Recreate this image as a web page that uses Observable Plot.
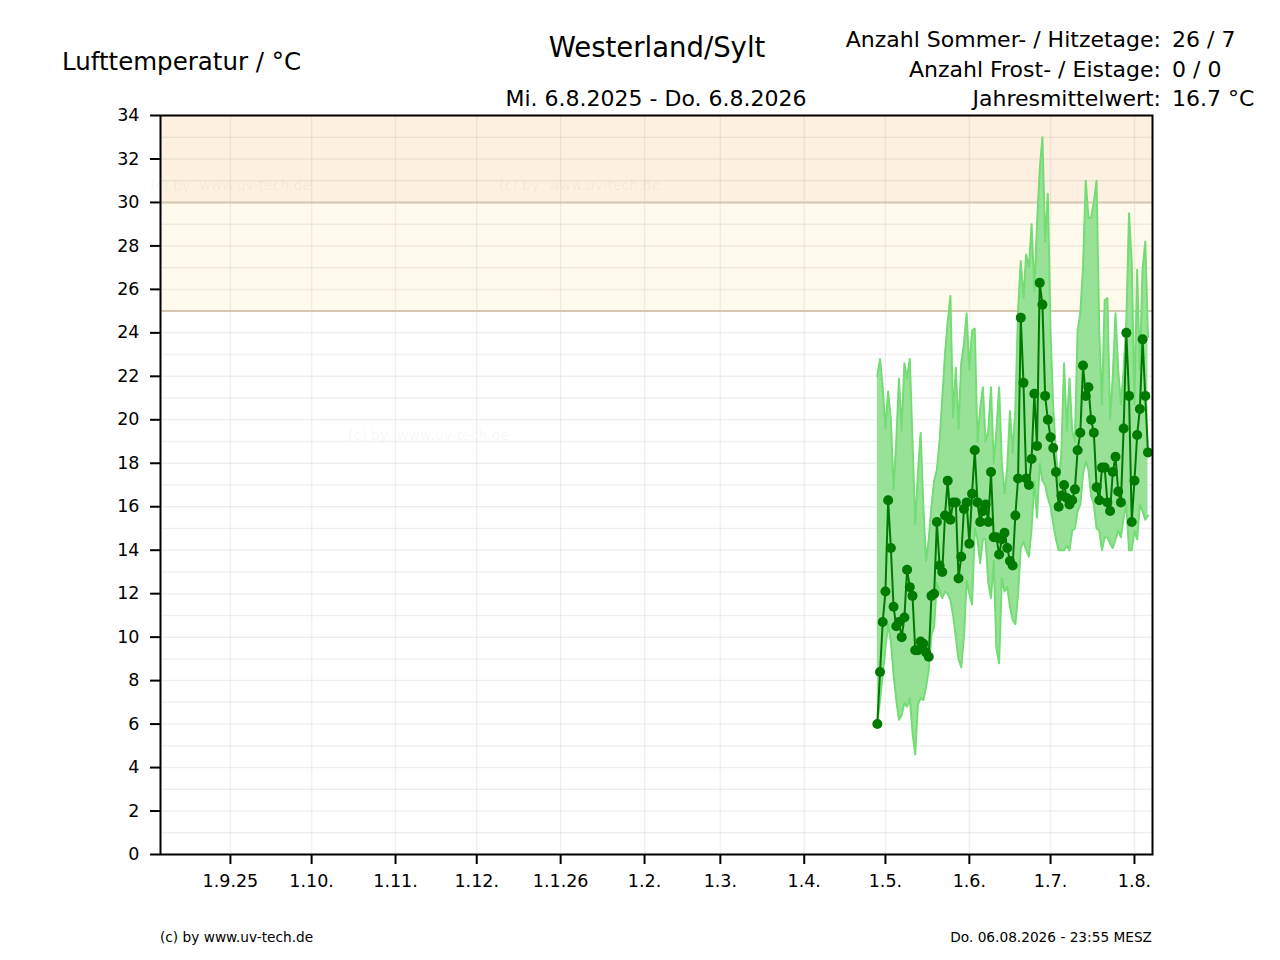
<!DOCTYPE html>
<html>
<head>
<meta charset="utf-8">
<script src="https://cdn.jsdelivr.net/npm/d3@7"></script>
<script src="https://cdn.jsdelivr.net/npm/@observablehq/plot@0.6"></script>
<style>
  html, body { margin: 0; padding: 0; background: #fff; }
  #chart { width: 1280px; height: 960px; }
</style>
</head>
<body>
<div id="chart"></div>
<script>
// ---- data ----
const firstDay = "2026-04-28";
const meanTemp = [6.0,8.4,10.7,12.1,16.3,14.1,11.4,10.5,10.7,10.0,
  10.9,13.1,12.3,11.9,9.4,9.4,9.8,9.7,9.3,9.1,
  11.9,12.0,15.3,13.3,13.0,15.6,17.2,15.4,16.2,16.2,
  12.7,13.7,15.9,16.2,14.3,16.6,18.6,16.2,15.3,15.8,
  16.1,15.3,17.6,14.6,14.6,13.8,14.5,14.8,14.1,13.5,
  13.3,15.6,17.3,24.7,21.7,17.3,17.0,18.2,21.2,18.8,
  26.3,25.3,21.1,20.0,19.2,18.7,17.6,16.0,16.5,17.0,
  16.4,16.1,16.3,16.8,18.6,19.4,22.5,21.1,21.5,20.0,
  19.4,16.9,16.3,17.8,17.8,16.2,15.8,17.6,18.3,16.7,
  16.2,19.6,24.0,21.1,15.3,17.2,19.3,20.5,23.7,21.1,
  18.5];
const minTemp = [6.0,7.1,8.3,9.5,10.6,9.8,8.3,7.1,6.2,6.4,
  7.0,6.8,7.2,5.6,4.6,6.9,7.2,7.1,7.7,8.5,
  10.1,10.5,12.5,12.1,11.8,12.1,12.0,11.7,11.0,10.0,
  9.0,8.6,10.0,12.6,12.0,11.5,15.0,14.5,13.4,14.5,
  14.5,12.5,11.8,13.5,9.5,8.8,12.7,12.1,12.3,11.4,
  10.8,10.6,12.0,14.1,14.4,14.0,13.7,15.0,17.2,15.5,
  18.0,17.2,17.0,16.4,16.0,15.2,14.5,14.0,14.0,14.0,
  14.2,14.0,14.9,15.0,15.8,16.1,17.5,18.1,17.7,16.5,
  16.1,15.0,14.9,14.0,14.6,14.6,14.3,14.1,14.5,14.9,
  14.6,15.5,16.1,14.0,14.0,14.9,14.5,16.1,15.8,15.4,
  15.6];
const maxTemp = [22.0,22.8,21.5,19.6,21.3,20.0,16.8,19.0,21.9,19.5,
  22.6,21.9,22.8,19.0,15.2,17.5,19.4,16.0,13.5,14.5,
  16.0,17.2,17.7,19.0,21.0,23.0,24.5,25.7,20.1,22.4,
  19.6,22.6,23.5,24.9,22.3,24.1,24.2,19.0,20.5,21.5,
  19.0,19.5,21.5,18.0,19.5,21.5,18.0,16.6,17.8,20.4,
  18.5,20.5,25.0,27.3,25.6,27.6,27.0,29.0,25.9,29.0,
  31.5,33.0,28.2,30.4,24.0,20.5,18.5,17.0,18.5,22.6,
  19.5,21.9,19.5,19.0,24.1,24.9,27.0,31.0,29.3,29.3,
  30.0,31.0,24.0,20.7,25.5,25.6,20.0,22.0,24.9,22.3,
  20.7,22.3,24.5,29.5,27.2,20.7,26.9,22.3,26.9,28.2,
  23.8];
const tickDates = ["2025-09-01","2025-10-01","2025-11-01","2025-12-01","2026-01-01","2026-02-01",
  "2026-03-01","2026-04-01","2026-05-01","2026-06-01","2026-07-01","2026-08-01"];
const tickLabels = ["1.9.25","1.10.","1.11.","1.12.","1.1.26","1.2.","1.3.","1.4.","1.5.","1.6.","1.7.","1.8."];
const yTicks = [0,2,4,6,8,10,12,14,16,18,20,22,24,26,28,30,32,34];
const zones = [
  {lo: 25, hi: 30, fill: "#fffaeb"},
  {lo: 30, hi: 34, fill: "#fdf0e0"}
];
const zoneLines = [25, 30];

// ---- build ----
const t0 = new Date(firstDay + "T00:00:00Z");
const rows = meanTemp.map((v, i) => ({
  date: new Date(t0.getTime() + i * 86400000),
  mean: v, min: minTemp[i], max: maxTemp[i]
}));
const tDates = tickDates.map(s => new Date(s + "T00:00:00Z"));
const labelMap = new Map(tDates.map((d, i) => [+d, tickLabels[i]]));
const xStart = new Date(Date.UTC(2025, 7, 6, 4));
const xEnd = new Date(Date.UTC(2026, 7, 7, 16));
const gridY = d3.range(0, 35, 1);

const chart = Plot.plot({
  width: 1280, height: 960,
  marginLeft: 160, marginRight: 128, marginTop: 115, marginBottom: 106,
  style: {fontFamily: "DejaVu Sans", background: "#fff", color: "#000"},
  x: {type: "utc", domain: [xStart, xEnd]},
  y: {domain: [0, 34]},
  marks: [
    Plot.rect(zones, {x1: () => xStart, x2: () => xEnd, y1: "lo", y2: "hi", fill: "fill"}),
    Plot.ruleY(gridY, {stroke: "#000", strokeOpacity: 0.06, strokeWidth: 1.5}),
    Plot.ruleX(tDates, {stroke: "#000", strokeOpacity: 0.06, strokeWidth: 1.5}),
    Plot.ruleY(zoneLines, {stroke: "#d8c6b0", strokeWidth: 2}),
    Plot.areaY(rows, {x: "date", y1: "min", y2: "max", fill: "#98e298", curve: "linear"}),
    Plot.line(rows, {x: "date", y: "max", stroke: "#74dc74", strokeWidth: 2}),
    Plot.line(rows, {x: "date", y: "min", stroke: "#74dc74", strokeWidth: 2}),
    Plot.line(rows, {x: "date", y: "mean", stroke: "#007a00", strokeWidth: 2}),
    Plot.dot(rows, {x: "date", y: "mean", r: 5, fill: "#007a00", stroke: "none"}),
    Plot.frame({stroke: "#000", strokeWidth: 2}),
    Plot.axisX(tDates, {tickFormat: d => labelMap.get(+d), tickSize: 10, tickPadding: 10,
      fontSize: 17.5, strokeWidth: 2, label: null}),
    Plot.axisY(yTicks, {tickSize: 10, tickPadding: 11, fontSize: 17.5, strokeWidth: 2, label: null})
  ]
});
document.getElementById("chart").appendChild(chart);

// ---- texts ----
const svg = d3.select(chart);
function txt(x, y, s, size, anchor, extra) {
  const t = svg.append("text")
    .attr("x", x).attr("y", y)
    .attr("font-family", "DejaVu Sans")
    .attr("font-size", size)
    .attr("text-anchor", anchor)
    .attr("fill", "#000")
    .text(s);
  if (extra) for (const k in extra) t.attr(k, extra[k]);
  return t;
}
const wm = {"fill-opacity": 0.05};
txt(150, 190, "(c) by  www.uv-tech.de", 14, "start", wm);
txt(499, 190, "(c) by  www.uv-tech.de", 14, "start", wm);
txt(348, 440, "(c) by  www.uv-tech.de", 14, "start", wm);

txt(657, 57, "Westerland/Sylt", 27.5, "middle");
txt(656, 106, "Mi. 6.8.2025 - Do. 6.8.2026", 22, "middle");
txt(62, 70, "Lufttemperatur / \u00b0C", 24.5, "start");

const headLabels = ["Anzahl Sommer- / Hitzetage:", "Anzahl Frost- / Eistage:", "Jahresmittelwert:"];
const headValues = ["26 / 7", "0 / 0", "16.7 \u00b0C"];
const headY = [47, 77, 106];
headLabels.forEach((s, i) => {
  txt(1161, headY[i], s, 22, "end");
  txt(1172, headY[i], headValues[i], 22, "start");
});

txt(160, 942, "(c) by www.uv-tech.de", 13.7, "start");
txt(1152, 942, "Do. 06.08.2026 - 23:55 MESZ", 13.7, "end");
</script>
</body>
</html>
